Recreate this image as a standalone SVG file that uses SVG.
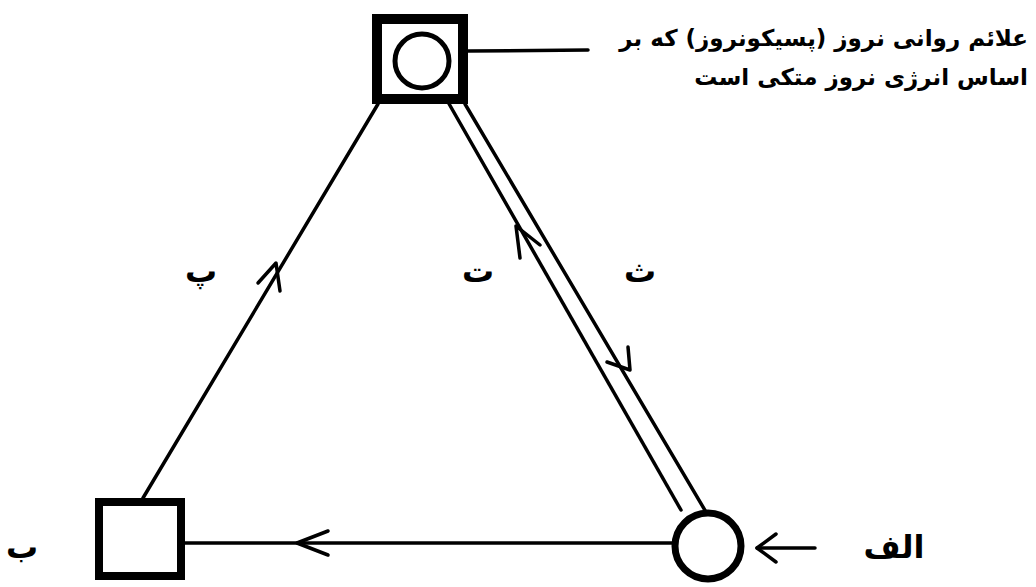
<svg xmlns="http://www.w3.org/2000/svg" width="1036" height="587" viewBox="0 0 1036 587">
<style>
.ln{stroke:#000;stroke-width:3.5;fill:none;stroke-linecap:round}
.ah{stroke:#000;stroke-width:3.5;fill:none;stroke-linecap:round;stroke-linejoin:round}
.lbl{font-family:"DejaVu Sans",sans-serif;font-weight:bold;font-size:32px;fill:#000}
.note{font-family:"DejaVu Sans",sans-serif;font-weight:bold;font-size:23px;fill:#000}
</style>
<rect width="1036" height="587" fill="#fff"/>
<g id="connectors">
  <line class="ln" x1="143" y1="498" x2="378" y2="104"/>
  <polyline class="ah" points="258,283 276,263 280,291"/>
  <line class="ln" x1="440" y1="88" x2="681" y2="510"/>
  <line class="ln" x1="465" y1="104" x2="706" y2="512"/>
  <polyline class="ah" points="520,258 516,226 540,245"/>
  <polyline class="ah" points="607,362 630,370 628,347"/>
  <line class="ln" x1="185" y1="543" x2="673" y2="543"/>
  <polyline class="ah" points="328,531 297,543 328,555"/>
  <line class="ln" x1="468" y1="51" x2="588" y2="50"/>
  <line class="ln" x1="815" y1="548" x2="757" y2="548"/>
  <polyline class="ah" points="776,534 757,548 776,562"/>
</g>
<g id="node-top">
  <rect x="377" y="19" width="86" height="80" fill="#fff" stroke="#000" stroke-width="10"/>
  <circle cx="422" cy="61" r="27" fill="#fff" stroke="#000" stroke-width="5"/>
</g>
<g id="node-b">
  <rect x="99" y="502" width="82" height="74" fill="#fff" stroke="#000" stroke-width="8"/>
</g>
<g id="node-alef">
  <circle cx="708" cy="546" r="33" fill="#fff" stroke="#000" stroke-width="7"/>
</g>
<g id="labels">
  <text class="lbl" x="894" y="558" text-anchor="middle">الف</text>
  <text class="lbl" x="22" y="558" text-anchor="middle">ب</text>
  <text class="lbl" x="201" y="282" text-anchor="middle">پ</text>
  <text class="lbl" x="478" y="282" text-anchor="middle">ت</text>
  <text class="lbl" x="640" y="282" text-anchor="middle">ث</text>
  <text class="note" x="1028" y="46" direction="rtl" text-anchor="start">علائم روانی نروز (پسیکونروز) که بر</text>
  <text class="note" x="1028" y="85" direction="rtl" text-anchor="start">اساس انرژی نروز متکی است</text>
</g>
</svg>
